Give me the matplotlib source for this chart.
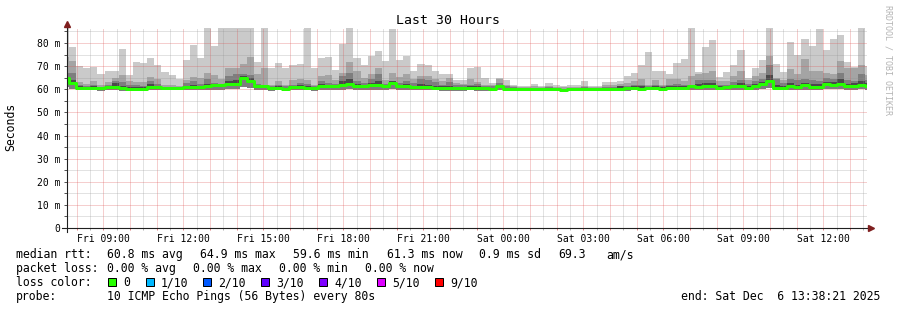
import numpy as np
import matplotlib
matplotlib.use('Agg')
import matplotlib.pyplot as plt
from matplotlib.patches import Rectangle

plt.rcParams['font.family'] = 'DejaVu Sans Mono'

# time axis in hours since the window start (Fri 07:38:21), 16 min smokeping bins
SPAN = 30.0
STEP = 16 / 60
FIRST_EDGE = 0.075
FIRST_HOUR = 0.3608  # Fri 08:00

# sorted pings per bin (ms): max, 9th, 8th, 7th, median, min
ping_max = [87, 78.3, 70.0, 69.0, 69.7, 66.8, 67.8, 67.8, 77.4, 66.1,
            71.7, 71.3, 73.5, 70.3, 67.4, 66.1, 64.3, 72.6, 79.2, 73.5,
            87, 78.7, 87, 87, 87, 87, 87, 71.9, 87, 69.3,
            71.3, 69.3, 70.4, 71.0, 87, 69.2, 73.6, 74.0, 68.3, 79.6,
            87, 73.4, 70.5, 74.4, 76.5, 72.2, 86.1, 72.5, 74.3, 67.9,
            70.8, 70.4, 68.0, 66.8, 66.5, 64.2, 63.8, 69.3, 69.5, 64.8,
            62.8, 64.8, 63.8, 61.7, 61.6, 61.3, 62.3, 61.6, 62.7, 61.7,
            61.3, 61.7, 61.7, 63.5, 61.3, 61.6, 63.0, 63.0, 63.5, 65.6,
            67.1, 70.3, 76.0, 68.0, 68.0, 66.6, 71.4, 73.0, 87, 67.6,
            78.2, 81.1, 65.1, 67.5, 70.7, 77.0, 65.0, 69.2, 72.6, 87,
            71.0, 67.6, 80.3, 75.0, 81.7, 78.6, 86.0, 76.8, 81.6, 83.3,
            71.7, 69.8, 87, 70.0]
ping_9 = [74.0, 72.3, 63.2, 62.2, 63.5, 61.7, 63.2, 65.0, 66.0, 63.6,
          63.2, 63.0, 65.5, 64.3, 61.7, 61.7, 61.3, 64.2, 65.1, 65.0,
          67.1, 66.3, 64.5, 69.4, 69.0, 70.8, 73.9, 66.5, 69.4, 61.8,
          63.5, 61.8, 64.0, 64.6, 63.8, 62.0, 65.7, 66.1, 64.0, 67.2,
          71.7, 67.7, 65.0, 66.4, 69.3, 63.8, 67.2, 65.3, 66.4, 64.3,
          65.7, 65.7, 64.6, 63.5, 65.0, 62.7, 62.3, 64.3, 63.2, 62.0,
          61.7, 64.3, 61.7, 61.3, 61.0, 60.9, 61.2, 61.0, 61.3, 61.0,
          60.9, 61.1, 61.0, 61.6, 60.9, 61.0, 61.7, 61.8, 62.2, 62.5,
          63.5, 64.3, 62.0, 63.8, 62.0, 64.3, 64.3, 63.5, 65.7, 66.4,
          67.1, 67.8, 63.5, 63.5, 65.7, 67.8, 64.0, 65.7, 67.1, 74.4,
          64.9, 64.2, 68.6, 66.4, 72.9, 67.8, 67.8, 67.1, 66.4, 72.2,
          69.3, 69.3, 70.3, 66.0]
ping_8 = [67.0, 67.0, 61.7, 61.2, 61.8, 61.0, 61.8, 63.6, 63.0, 61.8,
          61.8, 61.6, 63.6, 62.2, 61.0, 61.0, 60.8, 62.7, 63.5, 62.3,
          64.3, 62.7, 62.3, 65.9, 66.4, 66.8, 66.0, 62.3, 62.0, 61.2,
          62.0, 61.2, 62.0, 62.7, 62.3, 61.3, 63.5, 62.7, 62.3, 65.7,
          67.2, 63.5, 62.7, 64.6, 66.4, 62.3, 63.2, 62.7, 63.5, 62.7,
          64.3, 63.8, 63.0, 62.0, 63.0, 62.0, 62.0, 62.0, 62.3, 61.3,
          61.3, 62.7, 61.3, 60.9, 60.6, 60.5, 60.7, 60.5, 60.8, 60.6,
          60.3, 60.6, 60.6, 61.0, 60.6, 60.6, 61.0, 61.0, 61.6, 61.5,
          62.0, 62.0, 61.3, 62.0, 61.3, 62.0, 62.3, 62.0, 62.0, 64.0,
          64.0, 64.0, 62.0, 62.0, 63.0, 64.0, 62.3, 63.5, 64.3, 70.7,
          64.3, 62.7, 64.3, 63.8, 64.3, 63.8, 63.5, 64.9, 64.3, 67.1,
          63.8, 63.5, 66.4, 64.0]
ping_7 = [65.5, 64.0, 61.2, 61.0, 61.2, 60.7, 61.4, 62.5, 61.2, 60.8,
          61.0, 61.0, 62.3, 61.6, 60.8, 60.8, 60.7, 61.6, 62.0, 61.5,
          62.3, 62.2, 62.1, 63.4, 63.8, 65.6, 64.8, 61.8, 61.6, 60.8,
          61.2, 60.7, 61.6, 61.8, 61.2, 60.8, 62.2, 62.0, 61.8, 63.5,
          64.5, 62.2, 62.0, 62.8, 63.6, 62.0, 63.6, 62.0, 62.3, 61.6,
          62.2, 62.0, 61.5, 61.2, 61.5, 61.0, 61.0, 61.2, 61.3, 60.8,
          60.7, 62.0, 60.7, 60.5, 60.4, 60.3, 60.5, 60.3, 60.5, 60.4,
          60.0, 60.3, 60.4, 60.6, 60.4, 60.4, 60.6, 60.7, 61.2, 61.0,
          61.2, 61.2, 60.9, 61.2, 60.8, 61.3, 61.5, 61.3, 61.6, 62.3,
          62.5, 62.5, 61.2, 61.5, 62.0, 62.5, 61.3, 62.2, 63.2, 66.0,
          62.0, 61.5, 62.5, 62.0, 62.8, 62.3, 62.2, 63.3, 63.0, 64.5,
          62.3, 62.5, 63.5, 62.5]
median = [64.9, 62.5, 60.7, 60.7, 60.6, 60.4, 61.0, 61.0, 60.4, 60.3,
          60.3, 60.3, 61.1, 61.0, 60.6, 60.6, 60.6, 61.0, 61.0, 60.9,
          61.4, 61.8, 61.8, 62.2, 62.4, 64.9, 63.6, 61.4, 61.2, 60.5,
          60.5, 60.3, 61.1, 61.1, 60.6, 60.5, 61.3, 61.5, 61.3, 61.8,
          62.4, 61.4, 61.4, 61.8, 62.0, 61.5, 62.8, 61.4, 61.5, 60.8,
          61.0, 60.9, 60.6, 60.5, 60.5, 60.4, 60.4, 60.6, 60.5, 60.4,
          60.2, 61.4, 60.2, 60.1, 60.2, 60.1, 60.2, 60.0, 60.1, 60.1,
          59.6, 60.0, 60.1, 60.2, 60.1, 60.2, 60.1, 60.3, 60.3, 60.4,
          60.5, 60.3, 60.5, 60.5, 60.3, 60.5, 60.6, 60.6, 61.2, 60.8,
          61.3, 61.3, 60.5, 61.0, 61.2, 61.2, 60.6, 61.3, 62.3, 63.5,
          60.6, 60.6, 61.3, 61.0, 61.7, 61.0, 61.0, 62.3, 62.0, 62.3,
          61.2, 61.6, 61.7, 61.3]
ping_min = [61.0, 60.0, 59.6, 59.6, 59.5, 59.4, 59.7, 59.6, 59.4, 59.4,
            59.4, 59.5, 59.7, 59.6, 59.5, 59.5, 59.5, 59.6, 59.6, 59.6,
            59.8, 59.9, 59.9, 60.0, 60.2, 60.8, 60.4, 59.7, 59.6, 59.4,
            59.5, 59.3, 59.7, 59.7, 59.5, 59.4, 59.7, 59.8, 59.7, 59.9,
            60.0, 59.8, 59.7, 59.9, 59.9, 59.8, 60.2, 59.7, 59.8, 59.6,
            59.6, 59.6, 59.5, 59.4, 59.4, 59.3, 59.3, 59.5, 59.4, 59.3,
            59.3, 59.8, 59.3, 59.2, 59.3, 59.2, 59.3, 59.1, 59.2, 59.2,
            58.9, 59.2, 59.2, 59.3, 59.2, 59.3, 59.2, 59.4, 59.4, 59.4,
            59.5, 59.4, 59.5, 59.5, 59.4, 59.5, 59.6, 59.6, 59.8, 59.6,
            59.8, 59.8, 59.5, 59.7, 59.8, 59.8, 59.5, 59.8, 60.2, 60.6,
            59.5, 59.5, 59.8, 59.6, 59.9, 59.6, 59.6, 60.2, 60.0, 60.2,
            59.7, 59.9, 60.0, 59.8]

tick_labels = ['Fri 09:00', 'Fri 12:00', 'Fri 15:00', 'Fri 18:00', 'Fri 21:00',
               'Sat 00:00', 'Sat 03:00', 'Sat 06:00', 'Sat 09:00', 'Sat 12:00']
y_ticks = [0, 10, 20, 30, 40, 50, 60, 70, 80]
y_labels = ['0', '10 m', '20 m', '30 m', '40 m', '50 m', '60 m', '70 m', '80 m']
loss_labels = ['0', '1/10', '2/10', '3/10', '4/10', '5/10', '9/10']
loss_colors = ['#26ff00', '#00b8ff', '#0059ff', '#5e00ff', '#7e00ff', '#dd00ff', '#ff0000']
loss_x = [108, 146, 203, 261, 319, 377, 435]

W, H = 897, 310
fig = plt.figure(figsize=(W / 100, H / 100), dpi=100)
ax = fig.add_axes([67 / W, (H - 228) / H, 800 / W, 200 / H])


def px(x, y):
    return x / W, 1 - y / H


edges = np.concatenate([[0], FIRST_EDGE + STEP * np.arange(len(median) - 1), [SPAN]])


def stepped(v):
    return np.append(v, v[-1])


# smoke layers, outermost pings lightest
ax.fill_between(edges, stepped(ping_min), stepped(ping_max), step='post', color='#cacaca', lw=0, zorder=1)
ax.fill_between(edges, stepped(ping_min), stepped(ping_9), step='post', color='#a4a4a4', lw=0, zorder=1.1)
ax.fill_between(edges, stepped(ping_min), stepped(ping_8), step='post', color='#7e7e7e', lw=0, zorder=1.2)
ax.fill_between(edges, stepped(median), stepped(ping_7), step='post', color='#4a4a4a', lw=0, zorder=1.3)
ax.step(edges, stepped(median), where='post', color='#26ff00', lw=2.16, zorder=3)

ax.set_xlim(0, SPAN)
ax.set_ylim(0, 86.5)

hours = FIRST_HOUR + np.arange(30)
ax.set_xticks(hours)
ax.set_xticks(hours + 0.5, minor=True)
labels = [''] * len(hours)
for i, lab in enumerate(tick_labels):
    labels[1 + 3 * i] = lab
ax.set_xticklabels(labels)
ax.set_yticks(y_ticks)
ax.set_yticklabels(y_labels)
ax.set_yticks([v + 5 for v in y_ticks], minor=True)

ax.grid(which='major', color='#de4f4f', alpha=0.55, ls=(0, (1, 1)), lw=0.72)
ax.grid(which='minor', color='#8f8f8f', alpha=0.5, ls=(0, (1, 1)), lw=0.72)
ax.set_axisbelow(False)

ax.tick_params(axis='x', which='major', length=1.5, width=0.72, color='#e08080', pad=3, labelsize=7)
ax.tick_params(axis='x', which='minor', length=1.5, width=0.72, color='#b0b0b0')
ax.tick_params(axis='y', which='both', length=2.5, width=0.72, color='#555555', pad=2.5, labelsize=7)

for s in ax.spines.values():
    s.set_visible(False)

# axes with arrows
ax.plot([-0.00625, 1.005], [0, 0], transform=ax.transAxes, clip_on=False, color='#1f1f1f', lw=0.8, zorder=4)
ax.plot([0, 0], [-0.02, 1.02], transform=ax.transAxes, clip_on=False, color='#1f1f1f', lw=0.8, zorder=4)
ax.plot([1.005], [0], marker='>', ms=4, color='#7f1f1f', transform=ax.transAxes, clip_on=False, zorder=5)
ax.plot([0], [1.02], marker='^', ms=4, color='#7f1f1f', transform=ax.transAxes, clip_on=False, zorder=5)

fig.text(*px(448, 24), 'Last 30 Hours', ha='center', va='baseline', fontsize=9.5)
fig.text(*px(10.5, 127), 'Seconds', ha='center', va='center', rotation=90, fontsize=8.3)
fig.text(*px(888, 60), 'RRDTOOL / TOBI OETIKER', ha='center', va='center', rotation=270,
         fontsize=6, color='#b4b4b4')

fs = 8.3
rows = [258, 272, 286, 300]
fig.text(*px(16, rows[0]), 'median rtt:', va='baseline', fontsize=fs)
for x, s in [(107, '60.8 ms avg'), (200, '64.9 ms max'), (293, '59.6 ms min'),
             (386.7, '61.3 ms now'), (479.3, '0.9 ms sd'), (558.3, '69.3'), (606.7, 'am/s')]:
    fig.text(*px(x, rows[0]), s, va='baseline', fontsize=fs)
fig.text(*px(16, rows[1]), 'packet loss:', va='baseline', fontsize=fs)
for x, s in [(107, '0.00 % avg'), (193.3, '0.00 % max'), (279.3, '0.00 % min'), (365.3, '0.00 % now')]:
    fig.text(*px(x, rows[1]), s, va='baseline', fontsize=fs)
fig.text(*px(16, rows[2]), 'loss color:', va='baseline', fontsize=fs)
for x, lab, c in zip(loss_x, loss_labels, loss_colors):
    fig.patches.append(Rectangle(px(x, 286), 7.5 / W, 8.5 / H, transform=fig.transFigure,
                                 facecolor=c, edgecolor='black', lw=0.72))
    fig.text(*px(x + 15, rows[2]), lab, va='baseline', fontsize=fs)
fig.text(*px(16, rows[3]), 'probe:', va='baseline', fontsize=fs)
fig.text(*px(107, rows[3]), '10 ICMP Echo Pings (56 Bytes) every 80s', va='baseline', fontsize=fs)
fig.text(*px(880, rows[3]), 'end: Sat Dec  6 13:38:21 2025', ha='right', va='baseline', fontsize=fs)

fig.savefig('out.png', dpi=100)
